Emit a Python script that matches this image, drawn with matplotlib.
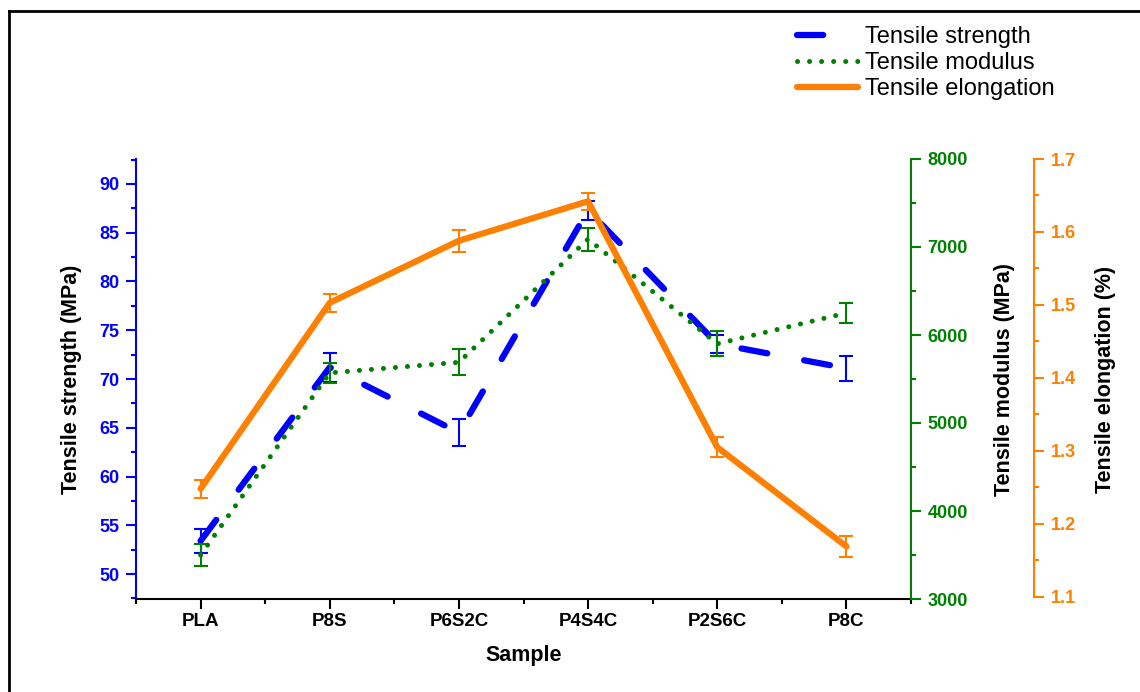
import matplotlib
matplotlib.use("Agg")
import matplotlib.pyplot as plt
from matplotlib.lines import Line2D
from matplotlib.ticker import MultipleLocator

plt.rcParams["font.family"] = ["Liberation Sans", "DejaVu Sans"]

samples = ["PLA", "P8S", "P6S2C", "P4S4C", "P2S6C", "P8C"]
strength = [53.4, 71.2, 64.5, 87.3, 73.6, 71.1]
strength_err = [1.2, 1.5, 1.4, 1.0, 0.9, 1.3]
modulus = [3500, 5570, 5690, 7090, 5900, 6250]
modulus_err = [120, 110, 150, 130, 140, 110]
elongation = [1.248, 1.503, 1.588, 1.642, 1.305, 1.169]
elongation_err = [0.012, 0.012, 0.015, 0.012, 0.014, 0.015]

BLUE = "#0000FF"
GREEN = "#008000"
ORANGE = "#FF8000"

W, H = 1140, 692
fig = plt.figure(figsize=(W / 100, H / 100), dpi=100)
ax = fig.add_axes([136 / W, 93 / H, 775 / W, 440 / H])
ax2 = ax.twinx()
ax3 = ax.twinx()

x = list(range(1, len(samples) + 1))

# strength (left axis)
ax.errorbar(x, strength, yerr=strength_err, fmt="none", ecolor=BLUE,
            elinewidth=1.5, capsize=5, capthick=1.5, zorder=3)
l1, = ax.plot(x, strength, color=BLUE, lw=4.5, dashes=(4.2, 6.0),
              dash_capstyle="round", zorder=3, label="Tensile strength")

# modulus (first right axis)
ax2.errorbar(x, modulus, yerr=modulus_err, fmt="none", ecolor=GREEN,
             elinewidth=1.5, capsize=5, capthick=1.5, zorder=3)
l2, = ax2.plot(x, modulus, color=GREEN, lw=3.6, dashes=(0.01, 2.4),
               dash_capstyle="round", zorder=3, label="Tensile modulus")

# elongation (second right axis)
ax3.errorbar(x, elongation, yerr=elongation_err, fmt="none", ecolor=ORANGE,
             elinewidth=1.5, capsize=5, capthick=1.5, zorder=3)
l3, = ax3.plot(x, elongation, color=ORANGE, lw=4.5, solid_capstyle="round",
               zorder=3, label="Tensile elongation")

ax.set_xlim(0.5, 6.5)
ax.set_xticks(x)
ax.set_xticklabels(samples)
ax.xaxis.set_minor_locator(MultipleLocator(0.5))

ax.set_ylim(47.44, 92.56)
ax.set_yticks([50, 55, 60, 65, 70, 75, 80, 85, 90])
ax.yaxis.set_minor_locator(MultipleLocator(2.5))
ax2.set_ylim(3000, 8000)
ax2.set_yticks([3000, 4000, 5000, 6000, 7000, 8000])
ax2.yaxis.set_minor_locator(MultipleLocator(500))
ax3.set_ylim(1.097, 1.7)
ax3.set_yticks([1.1, 1.2, 1.3, 1.4, 1.5, 1.6, 1.7])
ax3.yaxis.set_minor_locator(MultipleLocator(0.05))

for a in (ax, ax2, ax3):
    for s in a.spines.values():
        s.set_visible(False)
        s.set_linewidth(1.5)

ax.spines["bottom"].set_visible(True)
ax.spines["bottom"].set_color("black")
ax.spines["left"].set_visible(True)
ax.spines["left"].set_color(BLUE)
ax2.spines["right"].set_visible(True)
ax2.spines["right"].set_color(GREEN)
ax3.spines["right"].set_visible(True)
ax3.spines["right"].set_color(ORANGE)
ax3.spines["right"].set_position(("axes", 1.1587))
ax3.spines["right"].set_bounds(1.1, 1.7)

ax.tick_params(axis="x", which="major", length=7, width=1.5, colors="black", pad=3)
ax.tick_params(axis="x", which="minor", length=3.6, width=1.5, colors="black")
ax.tick_params(axis="y", which="major", length=7, width=1.5, colors=BLUE, pad=5)
ax.tick_params(axis="y", which="minor", length=3.6, width=1.5, colors=BLUE)
ax2.tick_params(axis="y", which="major", length=7, width=1.5, colors=GREEN, pad=5)
ax2.tick_params(axis="y", which="minor", length=3.6, width=1.5, colors=GREEN)
ax3.tick_params(axis="y", which="major", length=7, width=1.5, colors=ORANGE, pad=5)
ax3.tick_params(axis="y", which="minor", length=3.6, width=1.5, colors=ORANGE)
for lab in ax.get_xticklabels():
    lab.set_fontsize(13.5)
    lab.set_fontweight("bold")
for a in (ax, ax2, ax3):
    for lab in a.get_yticklabels():
        lab.set_fontsize(13)
        lab.set_fontweight("bold")

label_font = dict(fontsize=15.5, fontweight="bold", color="black")
ax.set_xlabel("Sample", **label_font)
ax.xaxis.set_label_coords(0.5, -0.1295)
ax.xaxis.label.set_verticalalignment("center")
ax.set_ylabel("Tensile strength (MPa)", **label_font)
ax.yaxis.set_label_coords(-0.0826, 0.5)
ax.yaxis.label.set_verticalalignment("center")
ax2.set_ylabel("Tensile modulus (MPa)", **label_font)
ax2.yaxis.set_label_coords(1.121, 0.5)
ax2.yaxis.label.set_verticalalignment("center")
ax3.set_ylabel("Tensile elongation (%)", **label_font)
ax3.yaxis.set_label_coords(1.2515, 0.5)
ax3.yaxis.label.set_verticalalignment("center")

fig.legend(handles=[l1, l2, l3], loc="upper left",
           bbox_to_anchor=(797 / W, 1 - 26 / H), frameon=False, fontsize=17,
           handlelength=2.6, handletextpad=0.3, labelspacing=0.18,
           borderpad=0, borderaxespad=0)

# page frame along the top and left edges
fig.add_artist(Line2D([9 / W, 9 / W], [0, 1 - 11 / H], transform=fig.transFigure,
                      color="black", lw=2))
fig.add_artist(Line2D([9 / W, 1], [1 - 11 / H, 1 - 11 / H], transform=fig.transFigure,
                      color="black", lw=2))

fig.savefig("out.png", dpi=100)
